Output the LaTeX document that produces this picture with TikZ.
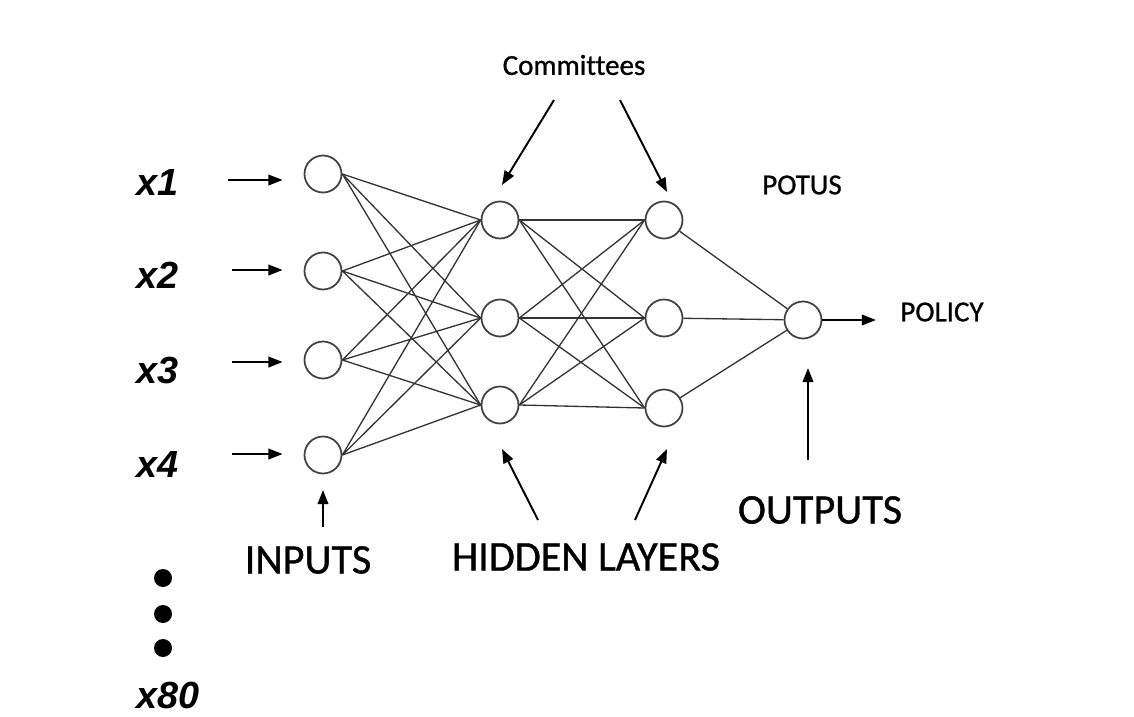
\documentclass[tikz,border=0pt]{standalone}
\usepackage{fontspec}
\setmainfont[Ligatures=NoCommon,FakeBold=0.9]{Carlito}
\newfontfamily\varfont{Liberation Sans}
\usetikzlibrary{arrows.meta,
	calc,
	positioning}
\tikzset{
	neuron/.style={circle,draw=black!75,line width=1pt,minimum size=0.74cm,inner sep=0pt},
	weight/.style={black!80,line width=0.75pt},
	pointer/.style={black,line width=1.1pt,-{Triangle[length=8pt,width=6pt]}},
	dotmark/.style={circle,fill=black,minimum size=0.36cm,inner sep=0pt},
	varlabel/.style={anchor=west,inner sep=0pt,font=\varfont\bfseries\itshape\fontsize{21.5}{21.5}\selectfont},
	biglabel/.style={inner sep=0pt,font=\fontsize{24}{24}\selectfont},
	smalllabel/.style={inner sep=0pt,font=\fontsize{16.5}{16.5}\selectfont}
}

\begin{document}
\begin{tikzpicture}[x=0.02cm,y=-0.02cm]
	\useasboundingbox (0,0) rectangle (1134,717);
	% layers
	\foreach \idx/\ypos in {1/174,2/271,3/360,4/455}
		\node[neuron] (in\idx) at (323,\ypos) {};
	\foreach \idx/\ya/\yb in {1/220/220,2/318/318,3/405/408} {
		\node[neuron] (ha\idx) at (500,\ya) {};
		\node[neuron] (hb\idx) at (664,\yb) {};
	}
	\node[neuron] (out) at (803,320) {};
	% weights
	\foreach \i in {1,...,4}
		\foreach \j in {1,2,3}
			\draw[weight] (in\i.east) -- (ha\j.west);
	\foreach \i in {1,2,3} {
		\foreach \j in {1,2,3}
			\draw[weight] (ha\i.east) -- (hb\j.west);
		\draw[weight] (hb\i) -- (out);
	}
	% input variables
	\foreach \idx/\ylab/\yarr/\xarr in {1/183/180/228,2/275/270/232,3/370/362/232,4/465/454/232} {
		\node[varlabel] (x\idx) at (136,\ylab) {x\idx};
		\coordinate (tail\idx) at (\xarr,\yarr);
		\draw[pointer,shorten >=12pt] (tail\idx) -- (tail\idx -| in\idx.west);
	}
	\foreach \idx/\ypos in {1/578,2/614,3/648}
		\node[dotmark] (dot\idx) at (163,\ypos) {};
	\node[varlabel] (x80) at (136,695) {x80};
	% labels
	\node[smalllabel] (comm) at (574,65) {Committees};
	\node[smalllabel] (potus) at (802,185) {POTUS};
	\node[smalllabel] (policy) at (942,312) {POLICY};
	\node[biglabel] (inputs) at (308,560) {INPUTS};
	\node[biglabel] (hidden) at (586,557) {HIDDEN LAYERS};
	\node[biglabel] (outputs) at (820,510) {OUTPUTS};
	% pointers
	\coordinate (c1) at (554,100);
	\coordinate (c1e) at (502,185);
	\coordinate (c2) at (620,100);
	\coordinate (c2e) at (667,192);
	\draw[pointer] (c1) -- (c1e);
	\draw[pointer] (c2) -- (c2e);
	\coordinate (h1) at (538,520);
	\coordinate (h1e) at (502,449);
	\coordinate (h2) at (635,520);
	\coordinate (h2e) at (667,449);
	\draw[pointer] (h1) -- (h1e);
	\draw[pointer] (h2) -- (h2e);
	\coordinate (ip) at (323,527);
	\coordinate (ipe) at (323,490);
	\draw[pointer] (ip) -- (ipe);
	\coordinate (op) at (808,460);
	\coordinate (ope) at (808,368);
	\draw[pointer] (op) -- (ope);
	\coordinate (pole) at (876,318);
	\draw[pointer] (out) -- (out -| pole);
\end{tikzpicture}
\end{document}
